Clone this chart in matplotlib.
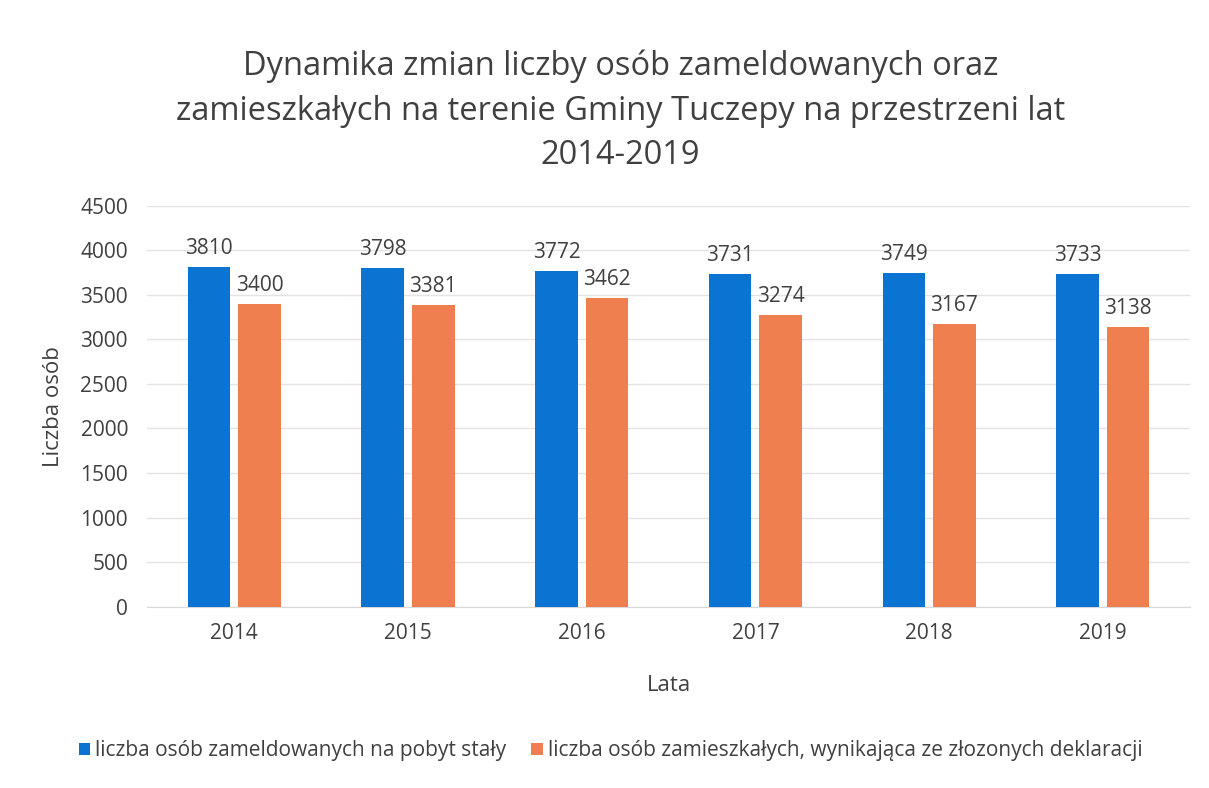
import matplotlib.pyplot as plt
import numpy as np

plt.rcParams['font.family'] = ['Open Sans', 'DejaVu Sans']

lata = ["2014", "2015", "2016", "2017", "2018", "2019"]
zameldowani = [3810, 3798, 3772, 3731, 3749, 3733]
zamieszkali = [3400, 3381, 3462, 3274, 3167, 3138]

tytul = ("Dynamika zmian liczby osób zameldowanych oraz\n"
         "zamieszkałych na terenie Gminy Tuczepy na przestrzeni lat\n"
         "2014-2019")
seria1 = "liczba osób zameldowanych na pobyt stały"
seria2 = "liczba osób zamieszkałych, wynikająca ze złozonych deklaracji"

blue = "#0b74d3"
orange = "#f07f4f"
txt = "#404040"

fig = plt.figure(figsize=(12.09, 7.88), dpi=100)
ax = fig.add_axes([0.122, 0.23, 0.862, 0.509])

x = np.arange(len(lata))
w = 0.245
b1 = ax.bar(x - w / 2 - 0.023, zameldowani, width=w, color=blue, label=seria1, zorder=3)
b2 = ax.bar(x + w / 2 + 0.023, zamieszkali, width=w, color=orange, label=seria2, zorder=3)

for bars in (b1, b2):
    for r in bars:
        ax.text(r.get_x() + r.get_width() / 2, r.get_height() + 90, str(int(r.get_height())),
                ha="center", va="bottom", fontsize=15, color=txt)

ax.set_xlim(-0.5, len(lata) - 0.5)
ax.set_ylim(0, 4500)
ax.set_yticks(range(0, 4501, 500))
ax.set_xticks(x)
ax.set_xticklabels(lata)
ax.tick_params(axis="both", length=0, labelsize=15, colors=txt)
ax.tick_params(axis="x", pad=12)
ax.tick_params(axis="y", pad=14)
ax.grid(axis="y", color="#e3e3e3", linewidth=1, zorder=0)
for s in ["top", "right", "left"]:
    ax.spines[s].set_visible(False)
ax.spines["bottom"].set_color("#d9d9d9")

ax.set_xlabel("Lata", fontsize=16, color=txt, labelpad=22)
ax.set_ylabel("Liczba osób", fontsize=16, color=txt, labelpad=12)

fig.text(0.513, 0.782, tytul, ha="center", va="bottom", fontsize=23.5,
         color=txt, linespacing=1.45)

fig.legend(loc="lower center", bbox_to_anchor=(0.505, 0.01), ncol=2, frameon=False,
           fontsize=15, handlelength=0.55, handleheight=0.55, handletextpad=0.25,
           columnspacing=1.2, labelcolor=txt)

fig.savefig("out.png", dpi=100, facecolor="white")
